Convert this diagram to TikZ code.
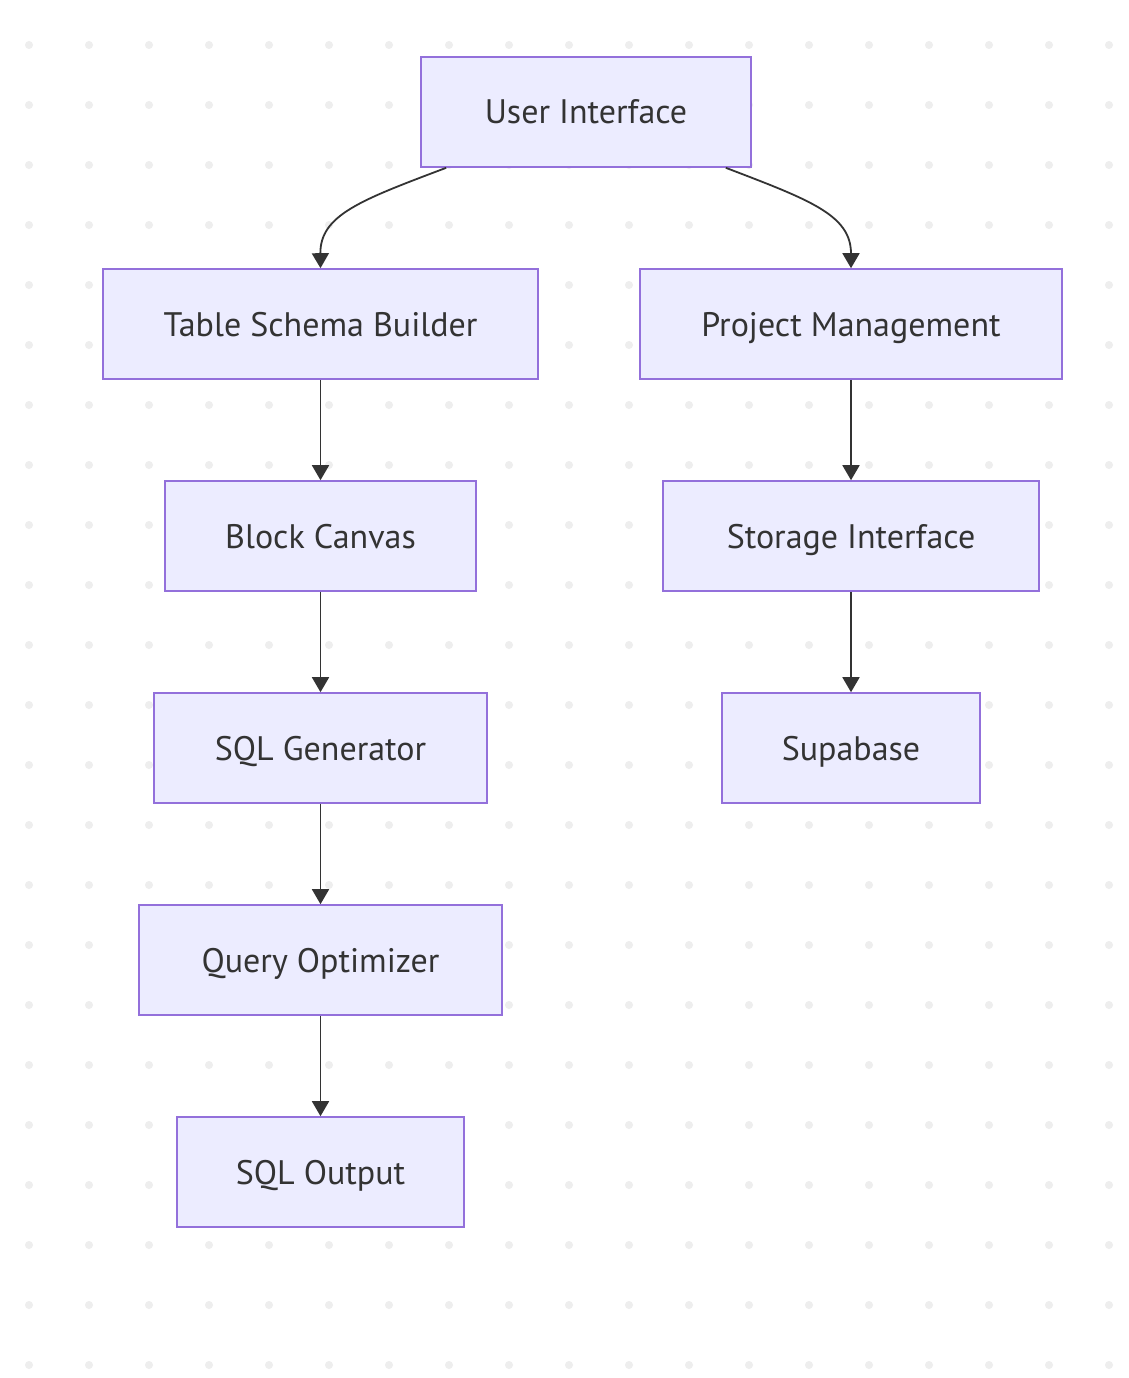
\documentclass[tikz,border=0pt]{standalone}
\usepackage{fontspec}
\setmainfont{PT Sans}
\usetikzlibrary{arrows.meta,calc}
\definecolor{nodefill}{HTML}{ECECFF}
\definecolor{nodeline}{HTML}{9370DB}
\definecolor{edgecol}{HTML}{333333}
\definecolor{dotcol}{HTML}{EEEEEE}
\tikzset{
  box/.style={draw=nodeline, fill=nodefill, line width=1.6pt, minimum height=110pt,
    inner sep=0pt, font=\fontsize{34}{40}\selectfont, text=edgecol, anchor=center,
    text height=24pt, text depth=0pt},
  flow/.style={draw=edgecol, line width=1.8pt, -{Triangle[length=15pt,width=17pt]}},
}
\begin{document}
\begin{tikzpicture}[x=1pt,y=-1pt]
\useasboundingbox (0,0) rectangle (1128,1378);
\fill[white] (0,0) rectangle (1128,1378);
\foreach \i in {0,...,18}{
  \foreach \j in {0,...,22}{
    \fill[dotcol] ({29+60*\i},{45+60*\j}) circle (4);
  }
}
\node[box, minimum width=330pt] (ui) at (586,112) {User Interface};
\node[box, minimum width=435pt] (tsb) at (320.5,324) {Table Schema Builder};
\node[box, minimum width=422pt] (pm) at (851,324) {Project Management};
\node[box, minimum width=311pt] (bc) at (320.5,536) {Block Canvas};
\node[box, minimum width=376pt] (si) at (851,536) {Storage Interface};
\node[box, minimum width=333pt] (sg) at (320.5,748) {SQL Generator};
\node[box, minimum width=258pt] (sb) at (851,748) {Supabase};
\node[box, minimum width=363pt] (qo) at (320.5,960) {Query Optimizer};
\node[box, minimum width=287pt] (so) at (320.5,1172) {SQL Output};

\draw[flow] ($(ui.south west)+(26,0)$) .. controls (361,200) and (320,215) .. (tsb.north);
\draw[flow] ($(ui.south east)+(-26,0)$) .. controls (810,200) and (851,215) .. (pm.north);
\draw[flow] (tsb) -- (bc);
\draw[flow] (bc) -- (sg);
\draw[flow] (sg) -- (qo);
\draw[flow] (qo) -- (so);
\draw[flow] (pm) -- (si);
\draw[flow] (si) -- (sb);
\end{tikzpicture}
\end{document}
